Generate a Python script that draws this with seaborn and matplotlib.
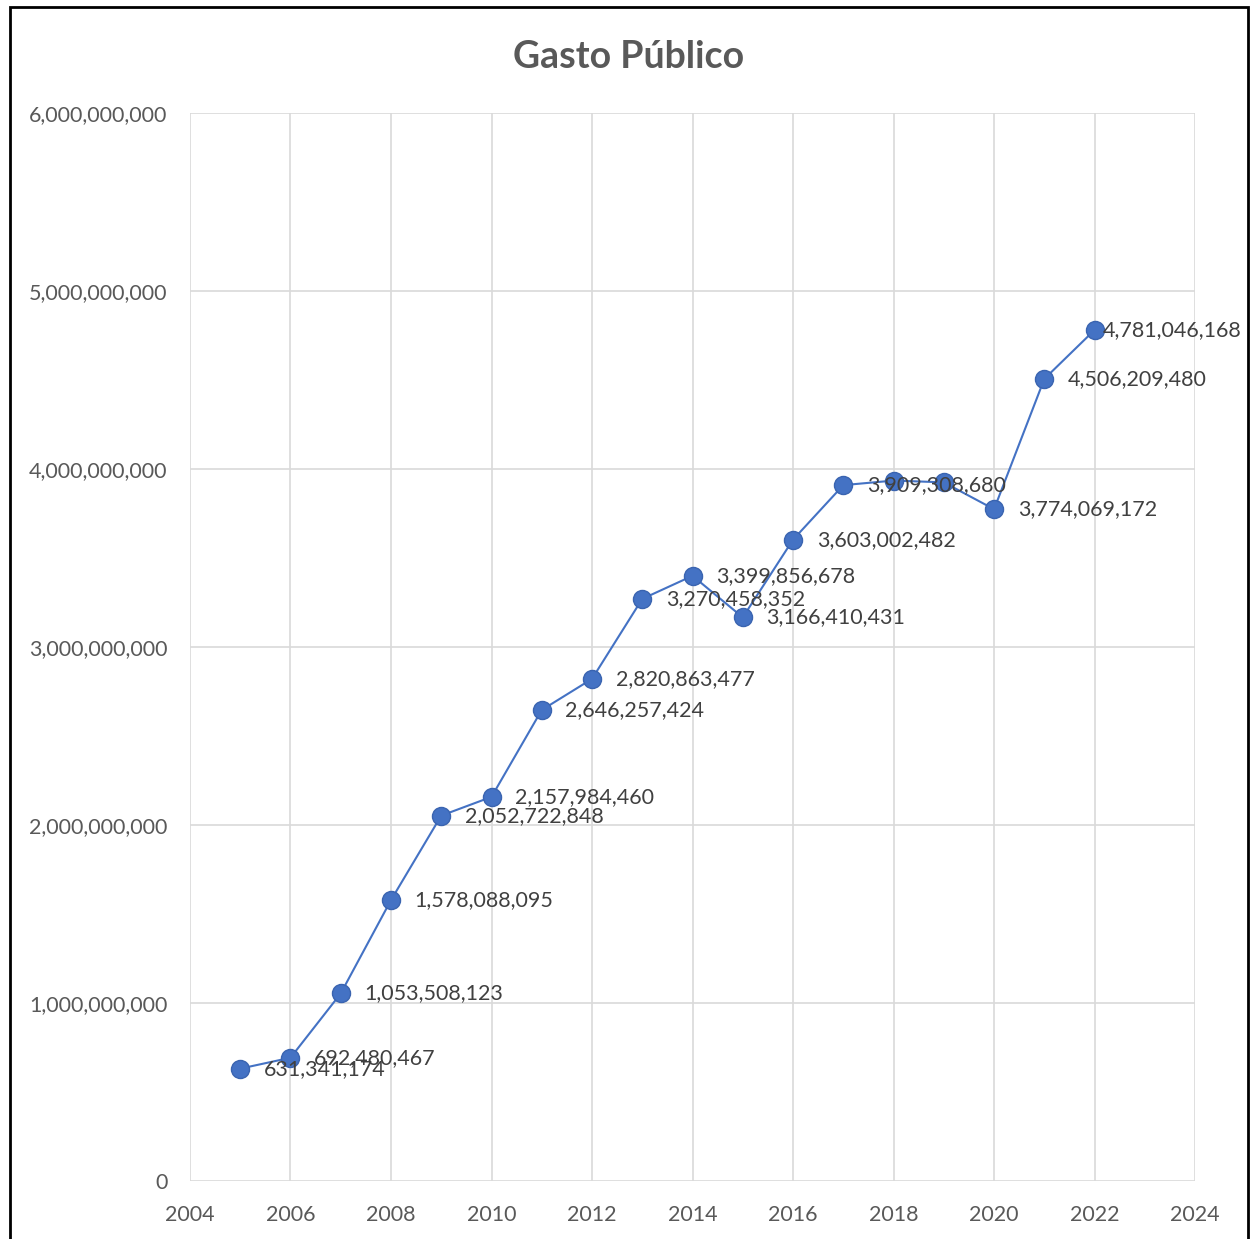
import matplotlib.pyplot as plt
import matplotlib.ticker as mticker
from matplotlib.patches import Rectangle
import pandas as pd
import seaborn as sns

anos = [2005, 2006, 2007, 2008, 2009, 2010, 2011, 2012, 2013,
        2014, 2015, 2016, 2017, 2018, 2019, 2020, 2021, 2022]
gasto = [631341174, 692480467, 1053508123, 1578088095, 2052722848,
         2157984460, 2646257424, 2820863477, 3270458352, 3399856678,
         3166410431, 3603002482, 3909308680, 3935000000, 3925000000,
         3774069172, 4506209480, 4781046168]
# rótulos que aparecem no gráfico (2018 e 2019 sem rótulo)
mostrar_rotulo = [True] * 13 + [False, False] + [True] * 3

df = pd.DataFrame({'Ano': anos, 'Gasto': gasto})

sns.set_style('white')
plt.rcParams['font.family'] = ['Lato', 'DejaVu Sans']

fig = plt.figure(figsize=(12.58, 12.39), dpi=100)
ax = fig.add_axes([0.151, 0.0468, 0.799, 0.862])

sns.lineplot(data=df, x='Ano', y='Gasto', ax=ax, color='#4472C4',
             linewidth=1.5, marker='o', markersize=13,
             markeredgecolor='#3A64B0', markeredgewidth=1)

for a, g, m in zip(anos, gasto, mostrar_rotulo):
    if m:
        # o último rótulo fica mais perto do ponto para caber no quadro
        dx = 6 if a == anos[-1] else 17
        ax.annotate(f'{g:,}', (a, g), xytext=(dx, 0), textcoords='offset points',
                    ha='left', va='center', fontsize=15.5, color='#404040')

ax.set_xlim(2004, 2024)
ax.set_ylim(0, 6000000000)
ax.xaxis.set_major_locator(mticker.MultipleLocator(2))
ax.yaxis.set_major_locator(mticker.MultipleLocator(1000000000))
ax.yaxis.set_major_formatter(mticker.FuncFormatter(lambda v, p: f'{int(v):,}'))
ax.grid(True, color='#d9d9d9', linewidth=1.2)
for s in ax.spines.values():
    s.set_visible(False)
ax.tick_params(axis='both', labelsize=15.5, labelcolor='#595959', length=0)
ax.tick_params(axis='x', pad=17)
ax.tick_params(axis='y', pad=16)
ax.set_xlabel('')
ax.set_ylabel('')

fig.text(0.5, 0.954, 'Gasto Público', ha='center', va='center',
         fontsize=27, fontweight='bold', color='#595959')

fig.patches.append(Rectangle((0.008, -0.01), 0.984, 1.0044, transform=fig.transFigure,
                             fill=False, edgecolor='black', linewidth=2))

plt.savefig('out.png', dpi=100)
